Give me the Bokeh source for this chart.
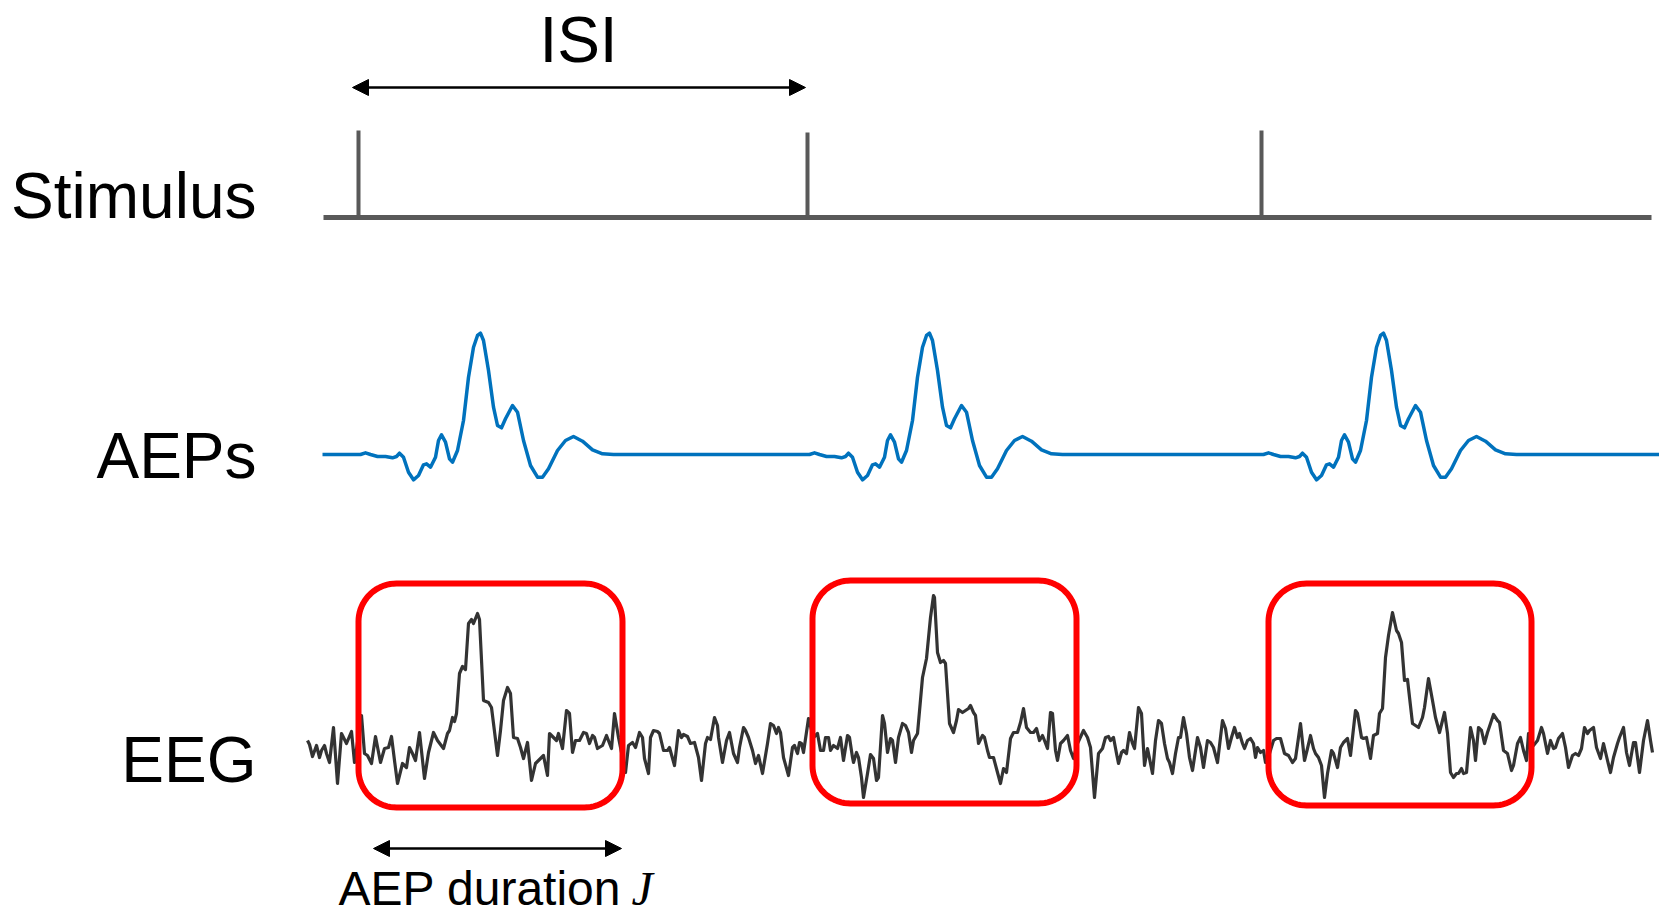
import numpy as np
from bokeh.plotting import figure
from bokeh.models import Range1d, Arrow, NormalHead
from bokeh.core.properties import value
from bokeh.embed import file_html
from bokeh.resources import INLINE

# ---------------------------------------------------------------- data
# stimulus onsets (ms) and marker heights
stim_onsets = [0, 449, 903]
stim_heights = [87, 85, 87]

# averaged auditory evoked potential, time after onset (ms) and amplitude
aep_t = [2, 7, 12, 19, 27, 34, 38, 41, 45, 50,
         55, 60, 65, 68, 72, 77, 80, 83, 87, 91,
         94, 99, 105, 110, 115, 119, 122, 125, 130, 135,
         139, 143, 147, 154, 159, 165, 172, 179, 184, 190,
         199, 207, 215, 224, 234, 244, 255]
aep_v = [0, 1.7, 0, -2, -2, -3.3, -2, 1.3, -2.7, -17.7,
         -25.3, -21, -10.3, -9.3, -12.7, -2.7, 14, 19.7, 12.3, -4.3,
         -7.7, 4, 34, 77.3, 107.3, 119, 121.3, 114, 84, 47.3,
         29, 26.7, 35.7, 49, 42.3, 14, -11, -22.7, -22.7, -14.3,
         4, 14, 18, 13.3, 4.7, 0.7, 0]

# raw EEG recording (ms, amplitude)
eeg_samples = [
    (-51, 5), (-49, 1), (-46, -11), (-42, 0), (-39, -12), (-37, -5), (-34, 0), (-32, -8),
    (-29, -17), (-25, 18), (-21, -38), (-17, 12), (-15, 8), (-12, 2), (-7, 14), (-4, -17),
    (3, 30), (6, -8), (9, -10), (13, -18), (17, 9), (22, -17), (26, -3), (30, -2),
    (33, 9), (36, -15), (39, -38), (44, -18), (48, -22), (51, -2), (54, -8), (57, -15),
    (61, 13), (66, -33), (70, -7), (75, 13), (79, 5), (85, -3), (89, 12), (91, 15),
    (94, 28), (96, 24), (98, 32), (101, 72), (104, 79), (107, 76), (110, 122), (113, 126),
    (115, 122), (119, 132), (121, 126), (125, 45), (130, 43), (133, 38), (139, -10), (142, 15),
    (145, 45), (149, 58), (152, 52), (155, 8), (159, 7), (162, -2), (165, -13), (169, 3),
    (173, -35), (177, -18), (182, -13), (185, -10), (189, -30), (191, 12), (195, 8), (198, 5),
    (200, 12), (204, -3), (208, 35), (211, 32), (214, -7), (217, 5), (221, 5), (225, 13),
    (228, 12), (231, 2), (234, 10), (236, 8), (239, -3), (244, 0), (248, 10), (253, -3),
    (256, 32), (260, 8), (267, -27), (270, 0), (274, 3), (277, -2), (281, 13), (284, 8),
    (286, -13), (290, -28), (292, 8), (295, 15), (299, 14), (301, 12), (305, -5), (309, -5),
    (311, -2), (316, -20), (320, 15), (323, 8), (325, 11), (329, 9), (332, 2), (336, 3),
    (340, -12), (343, -35), (347, 2), (349, 8), (352, 6), (356, 28), (359, 20), (360, 8),
    (364, -17), (368, 5), (371, 13), (375, -8), (379, -17), (381, -2), (385, 18), (387, 15),
    (390, 8), (394, -5), (397, -18), (400, -10), (404, -28), (409, 2), (412, 22), (415, 20),
    (418, 12), (420, 18), (422, 13), (425, -12), (430, -30), (434, -2), (436, 0), (439, -8),
    (441, 3), (443, 2), (445, -7), (450, 27), (455, 8), (459, 12), (462, -5), (465, -5),
    (467, 8), (470, 8), (472, -5), (475, 0), (479, -3), (482, 8), (485, -15), (489, 10),
    (491, 8), (494, -12), (495, -17), (498, -7), (500, -12), (503, -32), (505, -52), (509, -28),
    (512, -9), (515, -13), (518, -35), (520, -32), (524, 30), (526, 22), (529, -7), (532, 7),
    (534, 5), (537, -17), (540, 8), (544, 22), (547, 20), (550, 13), (553, -7), (555, 5),
    (559, 12), (564, 68), (568, 87), (572, 128), (575, 150), (576, 148), (579, 93), (582, 83),
    (585, 85), (587, 82), (591, 22), (595, 13), (598, 25), (600, 36), (604, 33), (607, 35),
    (610, 37), (612, 40), (615, 33), (617, 30), (620, 2), (624, 10), (626, 8), (629, -5),
    (631, -12), (635, -12), (639, -27), (642, -38), (645, -23), (648, -27), (652, 7), (655, 13),
    (659, 13), (662, 23), (665, 37), (668, 18), (672, 13), (675, 13), (678, 17), (681, 5),
    (684, 10), (686, 5), (689, -3), (692, 33), (694, 32), (697, -5), (699, -15), (702, 2),
    (705, 5), (709, 10), (712, -5), (715, -13), (719, 2), (725, 15), (729, 8), (732, -2),
    (736, -52), (740, -8), (744, -3), (747, 8), (750, 9), (752, 5), (755, 8), (758, -8),
    (760, -18), (763, -7), (765, -5), (768, -8), (771, 13), (774, 2), (776, -3), (780, 38),
    (783, 32), (786, -20), (789, -3), (794, -28), (797, 5), (800, 25), (803, 22), (806, 2),
    (809, -13), (811, -17), (814, -28), (817, -8), (820, 8), (822, 8), (825, 28), (828, 12),
    (831, -12), (834, -25), (839, 8), (842, -2), (845, -22), (849, 5), (852, 3), (855, -2),
    (859, -17), (864, 25), (867, 17), (870, -3), (873, 8), (876, 18), (879, 8), (881, 12),
    (884, 2), (886, -3), (889, 5), (892, 7), (895, 2), (897, -12), (899, -2), (902, -7),
    (905, -5), (907, -17), (911, -8), (915, 5), (918, 7), (922, 7), (926, -8), (930, -10),
    (934, -17), (937, -13), (942, 22), (946, -15), (949, -3), (952, 10), (955, -3), (957, -8),
    (960, -12), (963, -20), (966, -52), (969, -28), (973, -5), (975, -8), (979, -22), (982, -2),
    (985, 3), (989, 7), (992, -10), (997, 35), (999, 32), (1003, 8), (1005, 7), (1008, 8),
    (1012, -13), (1015, 10), (1019, 12), (1021, 32), (1024, 37), (1027, 88), (1030, 110), (1034, 133),
    (1038, 115), (1040, 112), (1043, 103), (1046, 65), (1049, 66), (1054, 22), (1057, 20), (1060, 18),
    (1064, 28), (1066, 38), (1070, 67), (1074, 45), (1077, 28), (1081, 13), (1084, 25), (1086, 33),
    (1089, 12), (1092, -27), (1095, -32), (1098, -28), (1100, -28), (1103, -23), (1105, -28), (1108, -27),
    (1112, 18), (1115, 5), (1117, -15), (1120, 18), (1123, 15), (1126, 2), (1129, 13), (1133, 25),
    (1135, 31), (1139, 25), (1141, 23), (1145, -5), (1149, -8), (1153, -25), (1155, -20), (1159, 2),
    (1162, 8), (1165, -5), (1168, -15), (1170, 12), (1175, 0), (1179, 5), (1183, 18), (1185, 12),
    (1189, -8), (1192, 5), (1195, -3), (1197, -2), (1200, 7), (1204, 12), (1207, -2), (1210, -22),
    (1214, -10), (1217, -8), (1220, -10), (1223, -3), (1226, 18), (1229, 12), (1231, 15), (1235, 18),
    (1238, -2), (1242, -13), (1245, 2), (1249, -15), (1252, -27), (1255, -12), (1259, 2), (1261, 8),
    (1265, 18), (1268, -7), (1271, -20), (1275, 3), (1277, 3), (1281, -27), (1285, 5), (1289, 25),
    (1292, 5), (1294, -7),
]
eeg_t = [s[0] for s in eeg_samples]
eeg_v = [s[1] for s in eeg_samples]

# AEP windows marked on the EEG (ms, amplitude limits)
box_t0 = [0, 454, 910]
box_t1 = [264, 718, 1173]
box_hi = [162, 165, 162]
box_lo = [-62, -58, -60]

row_labels = ["Stimulus", "AEPs", "EEG"]

# ---------------------------------------------------------------- layout
W, H = 1659, 917
T0 = -358                      # left edge of the canvas on the time axis
STIM_Y, AEP_Y, EEG_Y = 700, 463, 172
LABEL_Y = [722, 462, 158]

p = figure(width=W, height=H, output_backend="svg", toolbar_location=None,
           x_range=Range1d(T0, T0 + W), y_range=Range1d(0, H),
           x_axis_location=None, y_axis_location=None, min_border=0)
p.grid.visible = False
p.outline_line_color = None
p.background_fill_color = "white"
p.border_fill_color = "white"

# stimulus train
p.segment(x0=[-35], y0=[STIM_Y], x1=[1293], y1=[STIM_Y],
          line_color="#595959", line_width=5)
p.segment(x0=stim_onsets, y0=[STIM_Y] * len(stim_onsets),
          x1=stim_onsets, y1=[STIM_Y + h for h in stim_heights],
          line_color="#595959", line_width=4)

# repeated evoked responses
aep_x, aep_y = [-36], [AEP_Y]
for onset in stim_onsets:
    aep_x += [onset + t for t in aep_t]
    aep_y += [AEP_Y + v for v in aep_v]
aep_x.append(T0 + W)
aep_y.append(AEP_Y)
p.line(aep_x, aep_y, line_color="#0072BD", line_width=3.5, line_join="round")

# ongoing EEG
p.line(eeg_t, [EEG_Y + v for v in eeg_v], line_color="#333333",
       line_width=3.2, line_join="round")


def rounded_box(x0, x1, y0, y1, r, n=20):
    xs, ys = [], []
    corners = [(x1 - r, y1 - r, 0), (x0 + r, y1 - r, 90),
               (x0 + r, y0 + r, 180), (x1 - r, y0 + r, 270)]
    for cx, cy, a0 in corners:
        a = np.radians(np.linspace(a0, a0 + 90, n))
        xs += list(cx + r * np.cos(a))
        ys += list(cy + r * np.sin(a))
    return xs, ys


bx, by = [], []
for t0, t1, lo, hi in zip(box_t0, box_t1, box_lo, box_hi):
    xs, ys = rounded_box(t0, t1, EEG_Y + lo, EEG_Y + hi, 38)
    bx.append(xs)
    by.append(ys)
p.patches(bx, by, fill_color=None, line_color="#FF0000", line_width=6,
          line_join="round")

# interval arrows
for xa, xb, ya in [(-6, 447, 830), (15, 263, 69)]:
    p.add_layout(Arrow(x_start=xa, y_start=ya, x_end=xb, y_end=ya,
                       line_color="black", line_width=2.5,
                       start=NormalHead(size=16, fill_color="black", line_color="black"),
                       end=NormalHead(size=16, fill_color="black", line_color="black")))

# text
sans = value("Liberation Sans")
p.text(x=[-102] * 3, y=LABEL_Y, text=row_labels, text_font=sans,
       text_font_size="64px", text_align="right", text_baseline="alphabetic",
       text_color="black")
p.text(x=[220], y=[878], text=["ISI"], text_font=sans, text_font_size="64px",
       text_align="center", text_baseline="alphabetic", text_color="black")
p.text(x=[-20], y=[29], text=["AEP duration"], text_font=sans,
       text_font_size="48px", text_align="left", text_baseline="alphabetic",
       text_color="black")
p.text(x=[273], y=[29], text=["J"], text_font=value("Liberation Serif"),
       text_font_style="italic", text_font_size="48px", text_align="left",
       text_baseline="alphabetic", text_color="black")

open("out.html", "w").write(file_html(p, INLINE))
